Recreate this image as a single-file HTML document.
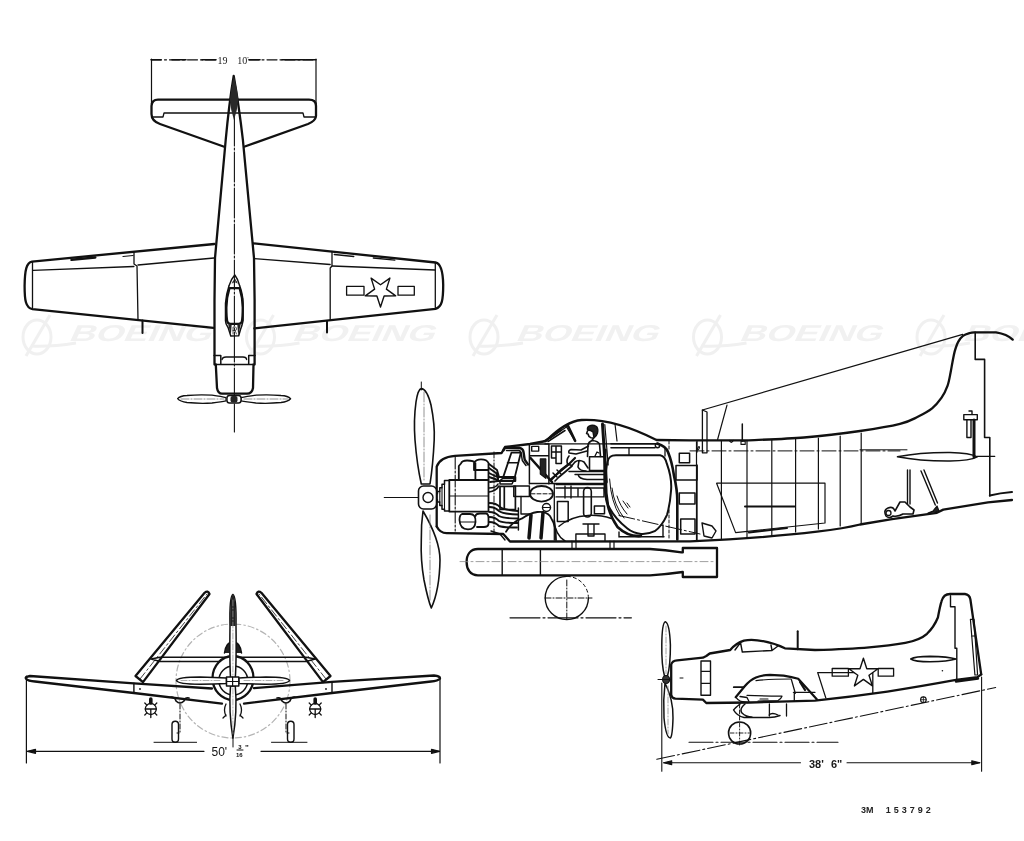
<!DOCTYPE html>
<html><head><meta charset="utf-8"><style>
html,body{margin:0;padding:0;background:#fff;width:1024px;height:841px;overflow:hidden}
svg{display:block;filter:grayscale(1)}
text{font-family:"Liberation Sans",sans-serif}
</style></head><body>
<svg width="1024" height="841" viewBox="0 0 1024 841">
<rect width="1024" height="841" fill="#fff"/>
<!-- watermark -->
<g id="wm" fill="#f1f1f1" font-weight="bold" font-size="23">
 <g transform="translate(21 0)">
  <ellipse cx="16" cy="337" rx="14" ry="17" fill="none" stroke="#f0f0f0" stroke-width="3"/>
  <path d="M5 356 L29 315" stroke="#f0f0f0" stroke-width="3" fill="none"/>
  <path d="M10 346 Q30 347 55 343" stroke="#f0f0f0" stroke-width="3" fill="none"/>
  <text x="0" y="0" transform="translate(47 341) skewX(-25)" textLength="142" lengthAdjust="spacingAndGlyphs" font-size="23">BOEING</text>
 </g>
 <g transform="translate(244.5 0)">
  <ellipse cx="16" cy="337" rx="14" ry="17" fill="none" stroke="#f0f0f0" stroke-width="3"/>
  <path d="M5 356 L29 315" stroke="#f0f0f0" stroke-width="3" fill="none"/>
  <path d="M10 346 Q30 347 55 343" stroke="#f0f0f0" stroke-width="3" fill="none"/>
  <text x="0" y="0" transform="translate(47 341) skewX(-25)" textLength="142" lengthAdjust="spacingAndGlyphs" font-size="23">BOEING</text>
 </g>
 <g transform="translate(468 0)">
  <ellipse cx="16" cy="337" rx="14" ry="17" fill="none" stroke="#f0f0f0" stroke-width="3"/>
  <path d="M5 356 L29 315" stroke="#f0f0f0" stroke-width="3" fill="none"/>
  <path d="M10 346 Q30 347 55 343" stroke="#f0f0f0" stroke-width="3" fill="none"/>
  <text x="0" y="0" transform="translate(47 341) skewX(-25)" textLength="142" lengthAdjust="spacingAndGlyphs" font-size="23">BOEING</text>
 </g>
 <g transform="translate(691.5 0)">
  <ellipse cx="16" cy="337" rx="14" ry="17" fill="none" stroke="#f0f0f0" stroke-width="3"/>
  <path d="M5 356 L29 315" stroke="#f0f0f0" stroke-width="3" fill="none"/>
  <path d="M10 346 Q30 347 55 343" stroke="#f0f0f0" stroke-width="3" fill="none"/>
  <text x="0" y="0" transform="translate(47 341) skewX(-25)" textLength="142" lengthAdjust="spacingAndGlyphs" font-size="23">BOEING</text>
 </g>
 <g transform="translate(915 0)">
  <ellipse cx="16" cy="337" rx="14" ry="17" fill="none" stroke="#f0f0f0" stroke-width="3"/>
  <path d="M5 356 L29 315" stroke="#f0f0f0" stroke-width="3" fill="none"/>
  <path d="M10 346 Q30 347 55 343" stroke="#f0f0f0" stroke-width="3" fill="none"/>
  <text x="0" y="0" transform="translate(47 341) skewX(-25)" textLength="142" lengthAdjust="spacingAndGlyphs" font-size="23">BOEING</text>
 </g>
</g>
<!-- TOP VIEW -->
<g id="top" fill="none" stroke="#111" stroke-width="2.3" stroke-linejoin="round" stroke-linecap="round">
 <!-- dimension -->
 <g stroke-width="1.2">
  <path d="M151.5 59.8 H216 M249 59.8 H316" stroke-dasharray="10 3 2 3"/>
  <path d="M151.5 59 V104 M316 59 V104"/>
 </g>
 <path d="M151 59.8 H161 M172 59.8 H186 M202 59.8 H216 M249 59.8 H260 M282 59.8 H305 M306 59.8 H316" stroke-width="1.6"/>
 <text x="217.5" y="63.8" font-size="10" style="font-family:'Liberation Serif',serif" fill="#222" stroke="none">19</text>
 <text x="237.3" y="63.8" font-size="10" style="font-family:'Liberation Serif',serif" fill="#222" stroke="none">10</text>
 <text x="246.5" y="61" font-size="6" fill="#444" stroke="none">"</text>
 <!-- h tail -->
 <path d="M223.5 146.5 L160 124 Q151.5 121 151.5 114 L151.5 106 Q152 99.7 158 99.7 L309 99.7 Q316 99.7 316 106 L316 116 Q315.5 121 308 124 L244.8 146.5"/>
 <path d="M152 117 L163 117 L164 113 L303 113 L304 117 L316 117" stroke-width="1.3"/>
 <!-- fuselage -->
 <path d="M233.7 76 C231 92, 228 115, 225.7 140 L215 258 L214.5 300 L214.5 364.5 L215.8 364.5 L217 388 Q218 393.7 222 393.7 L247 393.7 Q252 393.7 253 388 L253.5 364.5 L254.6 364.5 L254.6 300 L254 258 L242.9 140 C240 115, 236.5 92, 233.7 76 Z"/>
 <path d="M234.4 80 V432" stroke-width="1.1" stroke-dasharray="30 2 2 2"/>
 <path d="M234 76.2 Q237 88 238.3 99 Q237.5 110 234 120 Q230.5 110 229.9 99 Q231 88 234 76.2 Z" fill="#2a2a2a" stroke="none"/>
 <!-- canopy -->
 <path d="M234.8 275 Q238 279 239.6 285.6 Q243 295 243.1 303.2 L243.1 320.7 Q242 326 240.5 329.5 L238.7 335.7 L230.8 336.1 L228.2 327.8 Q225.5 324 225.5 320.7 L225.5 303.2 Q226 295 229.1 285.6 Q231 279 234.8 275 Z" stroke-width="1.5"/>
 <path d="M229.5 288.2 Q226.4 298 226.4 307.6 Q226.4 317 227.3 321.6 Q228 323.8 230.4 323.8 L238.7 323.8 Q241 323.8 241.8 321.6 Q242.7 317 242.7 307.6 Q242.7 298 239.6 288.2 Z" stroke-width="2.2"/>
 <path d="M228.2 324.5 L230.8 335.5 L231.7 324.5 Z M240.7 324.5 L238.2 335.5 L237.3 324.5 Z" fill="#222" stroke="none"/>
 <path d="M233 334 V327 H235.5 Q236.5 327.5 236.5 329 Q236.5 330.5 235 330.5 H233 M235 330.5 L236.5 334" stroke-width="0.7"/>
 <path d="M232.5 283 L234.8 279 L237 283 M233 282 H236.5" stroke-width="0.9"/>
 <!-- cowl lines -->
 <path d="M214 355.4 H220.8 V364.5 M255 355.4 H248.7 V364.5 M215.8 364.5 H253.5" stroke-width="1.5"/>
 <path d="M222 359.5 Q222.5 357 226 357 H243 Q246.5 357 246.6 359.5" stroke-width="1.3"/>
 <!-- prop -->
 <path d="M177.6 398.7 Q180 395.8 187 395.5 Q200 394.3 212 395.2 Q222 396.5 226 397.7 L226 400.9 Q222 401.8 212 403 Q200 403.8 187 402.5 Q180 401.6 177.6 398.7 Z" fill="#fff" stroke-width="1.3"/>
 <path d="M290.6 398.7 Q288 395.8 281 395.5 Q268 394.3 256 395.2 Q246 396.5 241 397.7 L241 400.9 Q246 401.8 256 403 Q268 403.8 281 402.5 Q288 401.6 290.6 398.7 Z" fill="#fff" stroke-width="1.3"/>
 <path d="M181 399 H224 M244 399 H288" stroke="#777" stroke-width="0.8" stroke-dasharray="8 2 1 2"/>
 <rect x="227" y="395.5" width="14" height="7.5" rx="2.5" fill="#fff" stroke-width="1.4"/>
 <rect x="230.5" y="396" width="7" height="6.5" rx="2" fill="#222" stroke="none"/>
 <!-- left wing -->
 <path d="M214.4 244 L32 261.6 C26.5 262.5, 24.8 270, 24.6 285.9 C24.6 300, 25.5 307.5, 32.5 309.2 L213.4 327.8"/>
 <path d="M32.5 262 V308" stroke-width="1.3"/>
 <path d="M32.9 270.4 L133.9 266.5 M138 265 L214 258" stroke-width="1.3"/>
 <path d="M134 252.6 V264 L137 266 L138 320" stroke-width="1.3"/>
 <!-- right wing -->
 <path d="M253.3 243.3 L435.5 262.5 C440.5 263.5, 443 270.5, 443.2 285 C443.2 300, 442 307, 435.5 308.8 L254.4 328.4"/>
 <path d="M435.3 263 V308.5" stroke-width="1.3"/>
 <path d="M254.4 258.7 L330.2 264.5 M332.3 266 L435 270" stroke-width="1.3"/>
 <path d="M332 251.5 V266 L330.2 268 L330.2 320.2" stroke-width="1.3"/>
 <!-- wing small details -->
 <path d="M71.6 259.8 L95.2 257.5" stroke-width="2.6"/>
 <path d="M123 256.5 L133 255.5" stroke-width="1.2"/>
 <path d="M334.3 254.5 L353.8 256.5 M373.3 258 L394.8 260.2" stroke-width="1.3"/>
 <path d="M142.5 320.5 V333 M327 321 V332.5" stroke-width="2"/>
 <!-- star -->
 <path d="M346.6 286.4 H364 V295.2 H346.6 Z M398 286.4 H414.3 V295.2 H398 Z" stroke-width="1.3"/>
 <path d="M380.5 307.0 L376.9 296.0 L365.3 295.9 L374.6 289.1 L371.1 278.1 L380.5 284.8 L389.9 278.1 L386.4 289.1 L395.7 295.9 L384.1 296.0 Z" fill="#fff" stroke-width="1.4"/>
</g>
<!-- FRONT VIEW -->
<g id="front" fill="none" stroke="#111" stroke-width="2.3" stroke-linejoin="round" stroke-linecap="round">
 <!-- prop disc dashed -->
 <circle cx="233" cy="681" r="57" stroke="#b4b4b4" stroke-width="1.2" stroke-dasharray="6 3 1.5 3"/>
 <!-- dimension -->
 <g stroke-width="1.2">
  <path d="M26.4 676 V763 M440 677 V763"/>
  <path d="M27.5 751.3 H204 M261 751.3 H439.5"/>
  <path d="M27.5 751.3 l8 -2 v4 z M439.5 751.3 l-8 -2 v4 z" fill="#111"/>
  <path d="M233 737 V747" stroke-width="1"/>
 </g>
 <text x="211.5" y="755.5" font-size="12" fill="#111" stroke="none">50'</text>
 <text x="238.3" y="749.3" font-size="6" font-weight="bold" fill="#111" stroke="none">3</text>
 <path d="M237 750 H243" stroke-width="1"/>
 <text x="236" y="756.5" font-size="6" font-weight="bold" fill="#111" stroke="none">16</text>
 <text x="245" y="750" font-size="8" font-weight="bold" fill="#111" stroke="none">"</text>
 <!-- folded wings -->
 <path d="M135.5 676 L204.6 592.8 Q208 590 209.5 594 L143 682.1 Z"/>
 <path d="M140 679 L207 594" stroke-width="0.8" stroke-dasharray="8 3 2 3"/>
 <path d="M330.5 676 L261.4 592.8 Q258 590 256.5 594 L323 682.1 Z"/>
 <path d="M326 679 L259 594" stroke-width="0.8" stroke-dasharray="8 3 2 3"/>
 <!-- h stab -->
 <path d="M151.2 659 L160 657.2 H306 L315.2 659 L306 661.5 H160 Z" stroke-width="1.6"/>
 <!-- wing -->
 <path d="M212 688.5 L133.9 683.3 L30 676 Q24 677 26.4 679 Q28 681 35 681.5 L133.9 693 L222 703.6 M244 703.6 L332 693 L431 681.5 Q438 681 440 678.5 Q440 676 434 675.5 L332 681.8 L254 688.2"/>
 <path d="M133.9 683.3 V693 M332 681.8 V693" stroke-width="1.4"/>
 <circle cx="140" cy="689" r="0.9" fill="#111" stroke="none"/>
 <circle cx="326" cy="689" r="0.9" fill="#111" stroke="none"/>
 <!-- gear bulges -->
 <path d="M171 697 Q175 697 176 701 Q180 705 184 701 Q185 697 189 698" stroke-width="1.6"/>
 <path d="M277 698 Q281 697 282 701 Q286 705 290 701 Q291 697 295 697" stroke-width="1.6"/>
 <!-- gear legs & wheels -->
 <path d="M180 704 V733 H177 M286 704 V733 H289" stroke-width="1" stroke-dasharray="5 2 1 2"/>
 <rect x="172" y="721.3" width="6.5" height="21" rx="3.2" stroke-width="1.4"/>
 <rect x="287.5" y="721.3" width="6.5" height="21" rx="3.2" stroke-width="1.4"/>
 <path d="M154 742.3 H196.6 M271.5 742.3 H307" stroke-width="1"/>
 <!-- bombs / racks -->
 <g stroke-width="1.3">
  <circle cx="150.8" cy="709" r="5.5"/>
  <path d="M145.3 709 H156.3 M150.8 709 V714.5 M154.7 712.9 L156.8 715.0 M146.9 712.9 L144.8 715.0 M146.9 705.1 L144.8 703.0 M154.7 705.1 L156.8 703.0 M150.8 714.5 L150.8 717.5"/>
  <path d="M150.8 699 V703" stroke-width="3.6"/>
  <circle cx="315.2" cy="709" r="5.5"/>
  <path d="M309.7 709 H320.7 M315.2 709 V714.5 M319.1 712.9 L321.2 715.0 M311.3 712.9 L309.2 715.0 M311.3 705.1 L309.2 703.0 M319.1 705.1 L321.2 703.0 M315.2 714.5 L315.2 717.5"/>
  <path d="M315.2 699 V703" stroke-width="3.6"/>
 </g>
 <!-- cowl -->
 <ellipse cx="233" cy="678" rx="20.5" ry="22" fill="#fff"/>
 <circle cx="233.3" cy="680.5" r="14.4" stroke-width="1.5"/>
 <path d="M224.5 653 Q226 642 233 641.5 Q240 642 241.5 653" fill="#222" stroke-width="1.5"/>
 <path d="M226 704 Q223 710 226 716 M240 704 Q243 710 240 716 M223 718 l3 -3 M243 718 l-3 -3" stroke-width="1.3"/>
 <!-- prop blades -->
 <path d="M232.9 594.4 Q236.5 596 236 626 Q236.5 660 235.3 678 L230.5 678 Q229.5 660 230 626 Q229.3 596 232.9 594.4 Z" fill="#fff" stroke-width="1.5"/>
 <path d="M232.9 594.6 Q236 596 235.5 626 L230.3 626 Q229.8 596 232.9 594.6 Z" fill="#222" stroke="none"/>
 <path d="M230.5 686 Q228.5 712 232.9 738 Q237.5 712 235.3 686 Z" fill="#fff" stroke-width="1.5"/>
 <path d="M176.5 680.5 Q178 677 200 677 Q215 677.4 226.5 678 L226.5 683.5 Q215 684 200 684.2 Q178 684.2 176.5 680.5 Z" fill="#fff" stroke-width="1.5"/>
 <path d="M289.5 680.5 Q288 677 266 677 Q251 677.4 238.8 678 L238.8 683.5 Q251 684 266 684.2 Q288 684.2 289.5 680.5 Z" fill="#fff" stroke-width="1.5"/>
 <path d="M181 680.5 H222 M244 680.5 H285 M232.9 600 V676 M232.9 688 V734" stroke="#999" stroke-width="0.8" stroke-dasharray="6 2 1 2"/>
 <rect x="226.5" y="677" width="12.3" height="9" fill="#fff" stroke-width="1.5"/>
 <path d="M232.6 677 V686 M226.5 681.5 H238.8" stroke-width="1.2"/>
</g>
<!-- SIDE VIEW MAIN -->
<g id="side" fill="none" stroke="#111" stroke-width="2.3" stroke-linejoin="round" stroke-linecap="round">
 <!-- thrust line -->
 <path d="M384.3 497.5 L420 497.5" stroke-width="1.2"/>
 <!-- fuselage outline -->
 <path d="M436.7 526.5 L436.7 466.6 Q440 457 455 455.8 L501.6 453 L505 447 L530 444 L546 441 C555 432, 568 421, 581.6 420 C600 419, 625 424, 656.5 440 L690 440.4 L747 440.4 C756.5 439.9 785.2 439.1 804.0 437.5 C822.8 435.9 844.0 433.3 860.0 431.0 C876.0 428.7 890.4 426.3 900.0 423.9 C909.6 421.5 912.4 419.4 917.8 416.8 C923.1 414.2 928.1 411.6 932.1 408.4 C936.1 405.2 939.0 401.4 941.6 397.7 C944.2 393.9 946.0 390.0 947.5 385.9 C949.0 381.8 949.7 377.0 950.5 373.0 C951.3 369.0 951.8 365.6 952.5 362.0 C953.2 358.4 953.8 354.8 954.7 351.4 C955.7 348.0 956.8 344.5 958.2 341.9 C959.6 339.3 961.0 337.4 963.0 335.9 C965.0 334.4 968.0 333.6 970.0 333.0 C972.0 332.4 974.3 332.4 975.2 332.3 L996 332.3 Q1007 334 1012.7 339.6"/>
 <path d="M975.2 332.3 V359.4 H984.6 V437.5 H989.8 V496" stroke-width="1.6"/>
 <path d="M702.4 410 L962.7 334.4" stroke-width="1.3"/>
 <path d="M436.7 526.5 Q440 533 446.6 533.2 L503.3 534 L510 541.5 L690 541.3 C730 539.5, 790 535, 817 531.7 C835 529.5, 850 527, 860 524.5 L892 519.2 L936.9 512.8 L943.3 509.6 L988 502.4 L1012 500"/>
 <path d="M989.8 495.5 Q1000 493 1012 492" stroke-width="2"/>
 <!-- canopy frame -->
 <path d="M545 443.9 L656 443.9" stroke-width="1.4"/>
 <path d="M566 426 L575 441" stroke-width="1.4"/>
 <path d="M615 424 L617 441" stroke-width="1.2"/>
 <!-- aft fuselage frames -->
 <path d="M702.4 410 L702.4 452.8 L707 452.8 L707 412 Z" stroke-width="1.3"/>
 <path d="M727 405.2 L717.6 439.5" stroke-width="1.2"/>
 <path d="M742.3 424 V441" stroke-width="1.5"/>
 <path d="M741 441.3 H745.2 V444.4 H741 Z" stroke-width="1.1"/>
 <path d="M729.4 440.5 Q731.3 444 733.2 440.5" stroke-width="1.4"/>
 <path d="M697 450 Q698.5 445.5 699.5 447 Q699 450.5 697 450 Z" stroke-width="1.1"/>
 <path d="M690 450.9 H900" stroke-width="1" stroke-dasharray="14 3 2 3"/>
 <path d="M860 449.8 H907" stroke-width="1"/>
 <g stroke-width="1.2">
  <path d="M721.4 441 V539"/>
  <path d="M747 441 V537"/>
  <path d="M771.8 440 V535"/>
  <path d="M795.6 439 V532"/>
  <path d="M818.4 438 V529"/>
  <path d="M840.2 436 V526"/>
  <path d="M861.2 433 V523"/>
  <path d="M696.5 442 V540"/>
  <path d="M716.6 483.2 H825 V523 L735.6 532.6 Z"/>
  <path d="M745 506.4 H794.6 M749 532.6 L787 528" stroke-width="2"/>
 </g>
 <!-- h stab -->
 <path d="M897.4 456.8 Q920 452.3 950 452.5 Q970 453 977.3 456.8 Q970 460.6 950 461 Q920 461.2 897.4 456.8 Z" stroke-width="1.4"/>
 <path d="M977 456.3 H994.8" stroke-width="1.2"/>
 <!-- tail light post -->
 <path d="M963.8 414.6 H977.3 V419.8 H963.8 Z M969 411 H972 V414.6 M966.9 419.8 V437.5 H971 V419.8" stroke-width="1.4"/>
 <path d="M974 420 V457" stroke-width="3"/>
 <!-- tail hook area -->
 <path d="M907.5 470 V504 M910 470 V504" stroke-width="1.4"/>
 <path d="M921 471 L935.3 505 M924 470 L937.5 503" stroke-width="1.4"/>
 <path d="M928 513 L933 511 L937 506 L939 511 Z" fill="#222" stroke-width="1.2"/>
 <path d="M886 516 Q883 510 888 508 Q893 506 895 511 L900 502 L905 502 L910 507 L914 510 L913 514 L903 514 Q898 517 893 516 Q889 519 886 516 Z" stroke-width="1.6"/>
 <circle cx="888.5" cy="513" r="2.5" stroke-width="1.3"/>
 <!-- ENGINE -->
 <g stroke-width="1.8">
  <path d="M455.2 457 V531" stroke-width="1.1" stroke-dasharray="12 2 2 2"/>
  <path d="M494 452 V534" stroke-width="1" stroke-dasharray="6 2 1 2"/>
  <!-- upper cylinders -->
  <path d="M458.8 480 V466 L461 463.5 Q462 460.5 467 460.5 Q474 460.5 475.4 463 V470 M474 470 V463 Q476 459.3 481 459.3 Q487 459.3 488.5 463 V480 M475.4 470 H488.5 M475.4 470 V480"/>
  <!-- crankcase -->
  <path d="M449.3 480 H488.5 V511.6 H449.3 Z"/>
  <path d="M449.3 480.5 H444.5 V484.2 H442 V487.8 H439.8 V491.4 H437.4 V493.8 M449.3 511 H444.5 V509.2 H442 V505.6 H439.8 V502 H437.4 V499.7" stroke-width="1.5"/>
  <path d="M444.5 484.2 V509.2 M442 487.8 V505.6 M439.8 491.4 V502" stroke-width="1.1"/>
  <path d="M450 496 H488" stroke-width="1.2"/>
  <!-- lower cylinders -->
  <path d="M462 514 Q459.5 515 459.5 520 Q460 529.4 468 529.4 Q475 529.4 475.5 522 Q476 514 470 514 Z"/>
  <path d="M460 522 H475" stroke-width="1.1"/>
  <path d="M475.5 516 Q476 513.5 480 513.5 H486 Q488.5 514 488.5 518 V524 Q488 527 484 527 H477"/>
  <!-- intake/exhaust pipes -->
  <path d="M489 464 L497 470 L499 477 M489 468 L496 473 L498 478 M489 473 L497 477 M489 477 L498 480 M490 482 L498 481" stroke-width="1.9"/>
  <path d="M498 477 H515.4 V481 H498 Z" stroke-width="1.8"/>
  <path d="M489 488 Q496 488 498 484 M489 492 Q496 491 499 486" stroke-width="1.6"/>
  <path d="M500 486.3 H515.4 V509.5 H500 Z M504.3 486.3 V509.5" stroke-width="1.7"/>
  <path d="M489.5 503 Q496 503 500 507 Q504 510 518 511 M489.5 507 Q495 507 499 511 Q503 514 518 514.5 M489.5 512 Q495 512 499 516 Q503 518.5 518 518.5 M489.5 517 Q495 517 499 521 Q503 523 518 523 M489.5 522 Q495 522 499 526 Q503 527.5 517 527.5" stroke-width="1.9"/>
  <path d="M518.4 508 V530" stroke-width="1.5"/>
  <path d="M491 531 L500 534 L505 540" stroke-width="1.4"/>
  <!-- carb duct -->
  <path d="M503.6 450.3 Q504 447.8 507 447.8 L519 447.8 Q523 448.5 523.5 452 L524.7 459.7 L528 464.4" stroke-width="2.4"/>
  <path d="M506.5 450.5 L518.5 450.3 Q521 451 521.3 454 L522.3 460.5 L526 465.5" stroke-width="1.5"/>
  <path d="M511.4 452.7 L520.8 452.7 L514.5 478.4 L502.8 478.4 Z" stroke-width="1.8"/>
  <path d="M507.5 462.8 H518.3" stroke-width="1.5"/>
  <path d="M502.8 478.4 L500 480.5 L500 484 H512 L514.5 478.4" stroke-width="1.5"/>
  <path d="M543.4 441.3 L561.4 430 M548 441.5 L565 430.5" stroke-width="1.5"/>
  <!-- cockpit front boxes -->
  <path d="M529.4 444 H548.9 V483.9 M529.4 444 V483.9 M529.4 455.8 H548.9 M529.4 483.4 H606" stroke-width="1.5"/>
  <rect x="531.7" y="446.4" width="7" height="4.7" stroke-width="1.4"/>
  <path d="M530.5 458 L552 482" stroke-width="2.6"/>
  <path d="M540.3 458.9 L545.8 458.9 L545.8 478.4 L540.3 474 Z" fill="#222" stroke-width="1.2"/>
  <path d="M551 480 L561 470 L569 464 L575 458" stroke-width="2.2"/>
  <ellipse cx="541.5" cy="493.8" rx="11.5" ry="7.8"/>
  <path d="M531 493.8 H552" stroke-width="1" stroke-dasharray="4 2"/>
  <rect x="513.8" y="486" width="15.6" height="10.4" stroke-width="1.5"/>
  <path d="M521 496.4 V514 H530" stroke-width="1.4"/>
  <circle cx="546.5" cy="507.5" r="4" stroke-width="1.4"/>
  <path d="M542.5 507.5 H550.5" stroke-width="1.2"/>
  <path d="M554.3 483.4 V540" stroke-width="1.3"/>
  <!-- seat/armour lower -->
  <path d="M506 531.7 Q512 522 521.6 518.7 Q530 513 537.3 512 Q546 511 550 516 Q554 522 555.6 530 L556 540" stroke-width="1.8"/>
  <path d="M531 515 L529 538 M543 512.5 L541 538" stroke-width="3.5"/>
  <!-- cockpit -->
  <path d="M551.5 446 H561.4 V463.6 H556 V458 H551.5 Z M551.5 452 H561.4 M556 446 V458" stroke-width="1.5"/>
  <path d="M567.5 424.8 L575.1 440.8" stroke-width="2.6"/>
  <path d="M550 438.5 L567 426.5" stroke-width="1.3"/>
  <!-- pilot -->
  <path d="M587.5 430 Q587 426.5 589.5 425.8 Q593 424.5 596.5 426.5 Q598.5 429 597.5 433 Q596.5 436.5 594 437.8 L593 432 Q591 430 587.5 430 Z" fill="#222" stroke-width="1.4"/>
  <path d="M587.5 431 L586.6 433.5 L588 434 Q588.5 437 591 437.8 L593.5 438 L592 440.5 Q598 441 599.5 444 L600.5 456.5 M592 440.5 Q588.5 442 588 445 L587.5 456.5" stroke-width="1.6"/>
  <path d="M588.5 446 L581 450 L571 449.5 Q568 450.5 569 453 L576 454 L587 451" stroke-width="1.6"/>
  <path d="M599 453 L597 452 L595 456" stroke-width="1.3"/>
  <path d="M602.5 424.1 L606.3 482" stroke-width="3"/>
  <path d="M604.8 424.5 L608.2 465" stroke-width="1.2"/>
  <rect x="589.5" y="456.8" width="15.2" height="13.7" stroke-width="1.6"/>
  <path d="M569 456 Q566 460 567.5 464 L572 465.5 L575 462 Q579 459 584 462 L588 468 M578.9 461.3 L578 467 Q580 471 586 471" stroke-width="1.6"/>
  <path d="M569 464 L562 470 L556 475 L551 479 M572 466 L565 472 L559 477 L555 481" stroke-width="1.7"/>
  <path d="M553 473 L557 477 M557 470 L561 474" stroke-width="1.5"/>
  <path d="M569 471.5 H605 M575 474.5 H605 M578 474.5 Q579 479 587 479.5 H605" stroke-width="1.4"/>
  <!-- lower cockpit -->
  <path d="M556 484.5 H606" stroke-width="1.3"/>
  <path d="M556 488 H604 V496.9 H556 M565 486 V498 M571 486 V498 M578 488 V496" stroke-width="1.4"/>
  <rect x="583.6" y="487.6" width="7.7" height="29.4" rx="3.8" stroke-width="1.6"/>
  <rect x="557.4" y="501.5" width="10.8" height="20.1" stroke-width="1.5"/>
  <rect x="594.4" y="506" width="10.1" height="7.8" stroke-width="1.5"/>
  <path d="M559 526.2 Q570 516.5 588.2 515.4 Q601 515 611.4 518.5" stroke-width="1.5"/>
  <path d="M554.3 520 Q555 535 565 541" stroke-width="1.5"/>
  <path d="M588 524 V536 H594 V524 Z M583 524 H599 M575.9 534 H605 V541 M575.9 534 V541" stroke-width="1.4"/>
  <!-- fuel tank -->
  <path d="M610.3 456.7 Q612 455.3 616 455.3 L660.2 455.3 Q665 456 667 464.2 Q672 478 671.1 490 Q670 505 667 514.8 Q662 526 654.7 531.2 Q648 534.5 641 534 Q633 533 627.4 528.5 Q614 518 608.2 505.2 Q605.5 490 606.2 471 Q607 459 610.3 456.7 Z" stroke-width="2"/>
  <path d="M605.5 450 Q604 470 605 490 Q607 512 617.5 527 Q628 537 641 536" stroke-width="2.6"/>
  <path d="M609.6 479 Q611 502 620 516 M612 488 Q614 505 624 518 M617 496 Q620 506 627 514 M623 501 L628 508 M627 503 L630 507" stroke-width="1"/>
  <path d="M657.5 443.7 Q665.7 446 668 452 Q672 462 673.9 475.1 Q677.3 490 677.3 500 V539.4" stroke-width="2.6"/>
  <path d="M611 443.7 H657 M611 447.8 H655" stroke-width="1.6"/>
  <circle cx="657.5" cy="445.5" r="2.2" stroke-width="1.4"/>
  <path d="M629 448 V455 M665 448 V456" stroke-width="1.3"/>
  <path d="M619 515.5 L700 534" stroke-width="1" stroke-dasharray="16 3 2 3"/>
  <path d="M619 536.7 H664 M619 532 V537 M663 525 V537" stroke-width="1.4"/>
  <!-- right boxes -->
  <rect x="679.3" y="453.3" width="10.3" height="9.5" stroke-width="1.5"/>
  <rect x="676" y="465.6" width="21" height="14.4" stroke-width="1.5"/>
  <rect x="679.3" y="493" width="15.7" height="11" stroke-width="1.5"/>
  <rect x="680.7" y="519" width="14.3" height="15" stroke-width="1.5"/>
  <path d="M669 441 V450 M669 510 V540" stroke-width="1" stroke-dasharray="3 2"/>
  <path d="M697 441 V452 M697 465 V540" stroke-width="1.3"/>
  <path d="M702 523 L712 526 L716 531 L712 538 L704 536 Z" stroke-width="1.4"/>
 </g>
 <!-- drop tank / torpedo -->
 <path d="M478 549 L650 549 Q665 550 681.5 552.4 L682.8 552.4 L682.8 548 L717 548 L717 577 L682.8 577 L682.8 572 Q665 574.5 650 575.3 L478 575.3 C470 575.3, 466.6 569, 466.6 562 C466.6 555, 470 549, 478 549 Z"/>
 <path d="M502.2 549 V575.3 M540.4 549 V575.3" stroke-width="1.4"/>
 <path d="M460 561.6 H715" stroke-width="0.8" stroke="#888" stroke-dasharray="8 3 2 3"/>
 <path d="M572 541 V549 M576 541 V549 M610 541 V549 M614 541 V549" stroke-width="1.2"/>
 <!-- wheel -->
 <path d="M566.8 576.4 A21.6 21.6 0 1 0 588.4 598" stroke-width="1.4"/>
 <path d="M588.4 598 A21.6 21.6 0 0 0 566.8 576.4" stroke-width="1" stroke-dasharray="3 3"/>
 <path d="M545 598 H592 M566.8 580 V620" stroke-width="1" stroke-dasharray="6 2 1 2"/>
 <path d="M510 617.8 H631.4" stroke-width="1.2" stroke-dasharray="30 3 2 3"/>
 <!-- propeller -->
 <path d="M421.3 388.6 Q427 389 431 405 Q435 425 434.2 440 Q433 465 430 484 L421.3 484 Q417 465 415 440 Q413.5 420 416 402 Q418 389 421.3 388.6 Z" fill="#fff" stroke-width="1.6"/>
 <path d="M423 511 Q440 540 440 560 Q439.5 590 431.3 608 Q428 600 424 580 Q420.5 560 421.3 540 Q421 525 423 511 Z" fill="#fff" stroke-width="1.6"/>
 <path d="M424 392 V482 M430 515 V600" stroke-width="0.8" stroke="#777" stroke-dasharray="10 2 1 2"/>
 <path d="M421.3 382 V390" stroke-width="1"/>
 <rect x="418.5" y="486" width="18" height="23" rx="5" fill="#fff" stroke-width="1.6"/>
 <circle cx="428" cy="497.5" r="5" stroke-width="1.4"/>
</g>
<!-- SIDE VIEW SMALL -->
<g id="small" fill="none" stroke="#111" stroke-width="2.3" stroke-linejoin="round" stroke-linecap="round">
 <!-- dimension -->
 <g stroke-width="1.1">
  <path d="M661.8 683 V771.3 M981.6 677 V771.3"/>
  <path d="M663.7 762.7 H800.5 M847 762.7 H979.8"/>
  <path d="M663.7 762.7 l8 -2 v4 z M979.8 762.7 l-8 -2 v4 z" fill="#111"/>
  <path d="M656.8 759.3 L995.7 687.5" stroke-dasharray="18 3 2 3"/>
  <path d="M689 742.3 H838" stroke-dasharray="24 3 2 3"/>
 </g>
 <text x="809" y="767.5" font-size="11" font-weight="bold" fill="#1a1a1a" stroke="none">38'</text>
 <text x="831" y="767.5" font-size="11" font-weight="bold" fill="#1a1a1a" stroke="none">6"</text>
 <!-- fuselage -->
 <path d="M671.2 695.3 L671.2 664.6 Q672 660.8 677.2 660.3 L702.9 657.7 L706.3 656 L709.7 653.5 L730.2 650 Q736 643 743.9 640.6 Q750 639.5 757.5 640.3 Q772 642 784.9 648.3 L815 650 Q850 649 869.2 647.3 Q890 645.5 905.3 642.8 Q920 640 927 633.8 Q934 627 937.9 617.5 Q940 606 941.5 601.3 Q943.5 594 950 594 L965 594 Q969.5 594.5 970.4 599.5 L981.2 674.4"/>
 <path d="M671.2 695.3 Q672 698.5 675.5 698.7 L702.9 699.6 L706.3 703 L750 702.5 L815 700.6 Q850 697 887.3 691.6 Q920 686.5 956 679.9 L977.6 677.1 L981.2 674.4"/>
 <path d="M956 681.5 L978 678.5" stroke-width="2.4"/>
 <!-- canopy frame -->
 <path d="M735 650 L740.5 642.5 L742.3 652 L772 650.5 L778 646 M772 650.5 L771 645" stroke-width="1.4"/>
 <path d="M797.7 631.2 V649.2" stroke-width="2"/>
 <!-- cowl flaps -->
 <path d="M701 661 H710.5 V695.3 H701 Z M701 671.4 H710.5 M701 683.4 H710.5" stroke-width="1.4"/>
 <path d="M680 678 H683" stroke-width="1"/>
 <!-- rudder -->
 <path d="M950.5 595.8 V606.7 H955 V648.2 H956.8 V679" stroke-width="1.4"/>
 <path d="M970.4 619.3 H974 L977.6 675 H974.9 Z M971.5 636 H975" stroke-width="1.2"/>
 <!-- h stab -->
 <path d="M910.8 659 Q915 656.4 930 656.4 Q948 656.8 956 659 Q948 661.4 930 661.8 Q915 661.8 910.8 659 Z" stroke-width="1.6"/>
 <circle cx="942.4" cy="670.8" r="0.8" fill="#111" stroke="none"/>
 <!-- wing root panel & star -->
 <path d="M817.7 672.6 L872.8 672.6 L872.8 693.4 M817.7 672.6 L825.8 697.9" stroke-width="1.3"/>
 <path d="M832.2 668.5 H848.4 V676.2 H832.2 Z M878.2 668.5 H893.6 V676.2 H878.2 Z" stroke-width="1.3"/>
 <path d="M863.4 658.2 L866.8 668.8 L878 668.8 L869 675.3 L872.4 685.9 L863.4 679.4 L854.4 685.9 L857.8 675.3 L848.9 668.8 L860 668.8 Z" fill="#fff" stroke-width="1.4"/>
 <circle cx="923.4" cy="699.7" r="2.8" stroke-width="1.1"/>
 <path d="M920.6 699.7 H926.2 M923.4 697 V702.5" stroke-width="0.8"/>
 <!-- wing (side) -->
 <path d="M735.7 697.2 L744.5 686.5 Q750 680 756 677.5 Q762 675 770 674.8 L783.6 675.7 Q792 677 798.2 678.7 L816.8 699.2" stroke-width="2.2"/>
 <path d="M733.8 687.2 H744" stroke-width="1.8"/>
 <path d="M756 680.6 Q770 679 791 679" stroke-width="1.2"/>
 <path d="M735.7 697.2 Q738 700.5 741 701.5 L748 702.5 M740 696.5 L747 697.5 L749 701.5" stroke-width="1.3"/>
 <path d="M747 695.3 Q760 696 782 696.2 Q781 699 778 700.5 L758 701 M760 699 H768" stroke-width="1.2"/>
 <path d="M791.4 679.6 L795.3 693.3 M793.4 692.3 H815 M794.3 692.3 V701" stroke-width="1.3"/>
 <path d="M800 682 L805 690" stroke-width="2.2"/>
 <!-- under stores -->
 <path d="M740 704 Q735 708 733.6 710 Q737 716 744 717.5 L768 717.5 Q774 717.8 780 715.5 M745 704 Q739 709 742 713 Q746 717 752 717" stroke-width="1.5"/>
 <path d="M769.4 704 V716 M786.5 704 V716 M769 715 Q772 712 778 715" stroke-width="1.3"/>
 <!-- wheel -->
 <circle cx="739.6" cy="733" r="11.1" stroke-width="1.5"/>
 <path d="M730 733 H750 M739.6 723 V745" stroke-width="0.9" stroke-dasharray="4 2 1 2"/>
 <path d="M739.6 704 V722" stroke-width="1" stroke-dasharray="4 2"/>
 <!-- prop -->
 <path d="M665.3 621.8 Q669.5 623 670.4 645 Q670.5 665 667.5 676 L664.5 676 Q661.5 665 661.8 645 Q662 623 665.3 621.8 Z" fill="#fff" stroke-width="1.5"/>
 <path d="M665 683 Q673.5 700 673 718 Q672.5 736 670.4 738 Q666 738 664 718 Q663 700 665 683 Z" fill="#fff" stroke-width="1.5"/>
 <path d="M666 626 V674 M668 686 V734" stroke="#888" stroke-width="0.8" stroke-dasharray="6 2 1 2"/>
 <ellipse cx="666.1" cy="679.5" rx="3.5" ry="4" fill="#333" stroke-width="1.2"/>
 <path d="M658 679.5 H671" stroke-width="1"/>
</g>
<text x="861" y="812.5" font-size="9" font-weight="bold" fill="#222">3M</text>
<text x="885.7" y="812.5" font-size="9" font-weight="bold" fill="#222" textLength="45" lengthAdjust="spacing">153792</text>
</svg>
</body></html>
